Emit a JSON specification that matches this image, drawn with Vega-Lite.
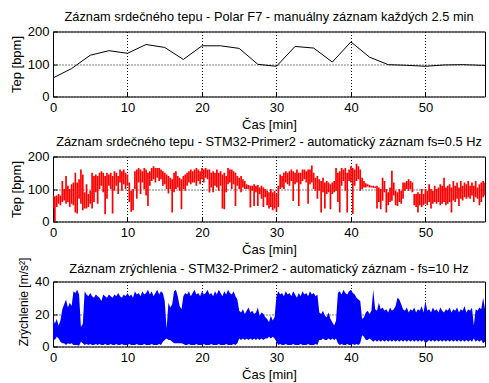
{
"$schema": "https://vega.github.io/schema/vega-lite/v6.json",
"padding": {"left": 9, "top": 9.5, "right": 0, "bottom": 0},
"spacing": 60,
"bounds": "flush",
"datasets": {
"polar": [{"t":0,"v":57},{"t":2.5,"v":86},{"t":5,"v":127},{"t":7.5,"v":141},{"t":10,"v":133},{"t":12.5,"v":160},{"t":15,"v":151},{"t":17.5,"v":114},{"t":20,"v":156},{"t":22.5,"v":156},{"t":25,"v":148},{"t":27.5,"v":99},{"t":30,"v":93},{"t":32.5,"v":154},{"t":35,"v":149},{"t":37.5,"v":106},{"t":40,"v":168},{"t":42.5,"v":121},{"t":45,"v":98},{"t":47.5,"v":96},{"t":50,"v":93},{"t":52.5,"v":97},{"t":55,"v":98},{"t":57.5,"v":96},{"t":60,"v":95}],
"hr": [
{"t":0,"lo":40,"hi":80},{"t":0.25,"lo":0,"hi":78},{"t":0.5,"lo":45,"hi":80},{"t":0.75,"lo":55,"hi":85},{"t":1,"lo":50,"hi":80},{"t":1.25,"lo":60,"hi":125},{"t":1.5,"lo":65,"hi":100},{"t":1.75,"lo":55,"hi":140},
{"t":2,"lo":60,"hi":110},{"t":2.25,"lo":45,"hi":100},{"t":2.5,"lo":55,"hi":115},{"t":2.75,"lo":50,"hi":120},{"t":3,"lo":28,"hi":150},{"t":3.25,"lo":25,"hi":120},{"t":3.5,"lo":70,"hi":130},{"t":3.75,"lo":55,"hi":160},
{"t":4,"lo":35,"hi":145},{"t":4.25,"lo":40,"hi":90},{"t":4.5,"lo":40,"hi":115},{"t":4.75,"lo":45,"hi":85},{"t":5,"lo":55,"hi":95},{"t":5.25,"lo":40,"hi":150},{"t":5.5,"lo":60,"hi":140},{"t":5.75,"lo":90,"hi":145},
{"t":6,"lo":55,"hi":140},{"t":6.25,"lo":100,"hi":150},{"t":6.5,"lo":110,"hi":155},{"t":6.75,"lo":90,"hi":150},{"t":7,"lo":22,"hi":140},{"t":7.25,"lo":70,"hi":150},{"t":7.5,"lo":110,"hi":145},{"t":7.75,"lo":100,"hi":150},
{"t":8,"lo":25,"hi":140},{"t":8.25,"lo":95,"hi":155},{"t":8.5,"lo":110,"hi":150},{"t":8.75,"lo":85,"hi":140},{"t":9,"lo":120,"hi":160},{"t":9.25,"lo":95,"hi":155},{"t":9.5,"lo":115,"hi":160},{"t":9.75,"lo":100,"hi":150},
{"t":10,"lo":110,"hi":145},{"t":10.25,"lo":60,"hi":120},{"t":10.5,"lo":30,"hi":95},{"t":10.75,"lo":35,"hi":100},{"t":11,"lo":100,"hi":155},{"t":11.25,"lo":70,"hi":160},{"t":11.5,"lo":120,"hi":165},{"t":11.75,"lo":85,"hi":160},
{"t":12,"lo":120,"hi":155},{"t":12.25,"lo":100,"hi":165},{"t":12.5,"lo":80,"hi":160},{"t":12.75,"lo":48,"hi":150},{"t":13,"lo":110,"hi":155},{"t":13.25,"lo":125,"hi":165},{"t":13.5,"lo":130,"hi":170},{"t":13.75,"lo":120,"hi":165},
{"t":14,"lo":135,"hi":165},{"t":14.25,"lo":125,"hi":165},{"t":14.5,"lo":130,"hi":160},{"t":14.75,"lo":110,"hi":155},{"t":15,"lo":115,"hi":150},{"t":15.25,"lo":100,"hi":145},{"t":15.5,"lo":86,"hi":140},{"t":15.75,"lo":100,"hi":135},
{"t":16,"lo":28,"hi":130},{"t":16.25,"lo":90,"hi":150},{"t":16.5,"lo":100,"hi":155},{"t":16.75,"lo":105,"hi":140},{"t":17,"lo":95,"hi":135},{"t":17.25,"lo":38,"hi":130},{"t":17.5,"lo":100,"hi":140},{"t":17.75,"lo":95,"hi":145},
{"t":18,"lo":110,"hi":150},{"t":18.25,"lo":120,"hi":155},{"t":18.5,"lo":115,"hi":160},{"t":18.75,"lo":120,"hi":155},{"t":19,"lo":120,"hi":160},{"t":19.25,"lo":110,"hi":165},{"t":19.5,"lo":125,"hi":160},{"t":19.75,"lo":115,"hi":155},
{"t":20,"lo":130,"hi":165},{"t":20.25,"lo":120,"hi":160},{"t":20.5,"lo":135,"hi":165},{"t":20.75,"lo":130,"hi":160},{"t":21,"lo":89,"hi":160},{"t":21.25,"lo":105,"hi":150},{"t":21.5,"lo":90,"hi":155},{"t":21.75,"lo":110,"hi":150},
{"t":22,"lo":105,"hi":160},{"t":22.25,"lo":95,"hi":150},{"t":22.5,"lo":110,"hi":155},{"t":22.75,"lo":40,"hi":145},{"t":23,"lo":38,"hi":150},{"t":23.25,"lo":90,"hi":140},{"t":23.5,"lo":115,"hi":165},{"t":23.75,"lo":120,"hi":160},
{"t":24,"lo":100,"hi":160},{"t":24.25,"lo":115,"hi":155},{"t":24.5,"lo":48,"hi":150},{"t":24.75,"lo":110,"hi":140},{"t":25,"lo":100,"hi":135},{"t":25.25,"lo":90,"hi":140},{"t":25.5,"lo":105,"hi":130},{"t":25.75,"lo":100,"hi":125},
{"t":26,"lo":100,"hi":115},{"t":26.25,"lo":100,"hi":112},{"t":26.5,"lo":43,"hi":110},{"t":26.75,"lo":95,"hi":110},{"t":27,"lo":48,"hi":115},{"t":27.25,"lo":90,"hi":110},{"t":27.5,"lo":48,"hi":112},{"t":27.75,"lo":85,"hi":105},
{"t":28,"lo":70,"hi":110},{"t":28.25,"lo":45,"hi":105},{"t":28.5,"lo":75,"hi":100},{"t":28.75,"lo":50,"hi":95},{"t":29,"lo":40,"hi":90},{"t":29.25,"lo":45,"hi":100},{"t":29.5,"lo":35,"hi":90},{"t":29.75,"lo":40,"hi":95},
{"t":30,"lo":30,"hi":85},{"t":30.25,"lo":45,"hi":110},{"t":30.5,"lo":100,"hi":145},{"t":30.75,"lo":105,"hi":140},{"t":31,"lo":100,"hi":150},{"t":31.25,"lo":120,"hi":155},{"t":31.5,"lo":115,"hi":150},{"t":31.75,"lo":110,"hi":155},
{"t":32,"lo":125,"hi":160},{"t":32.25,"lo":63,"hi":155},{"t":32.5,"lo":115,"hi":150},{"t":32.75,"lo":120,"hi":160},{"t":33,"lo":48,"hi":150},{"t":33.25,"lo":115,"hi":150},{"t":33.5,"lo":125,"hi":160},{"t":33.75,"lo":130,"hi":160},
{"t":34,"lo":120,"hi":155},{"t":34.25,"lo":55,"hi":160},{"t":34.5,"lo":115,"hi":160},{"t":34.75,"lo":120,"hi":172},{"t":35,"lo":100,"hi":150},{"t":35.25,"lo":95,"hi":135},{"t":35.5,"lo":70,"hi":140},{"t":35.75,"lo":95,"hi":130},
{"t":36,"lo":28,"hi":125},{"t":36.25,"lo":90,"hi":135},{"t":36.5,"lo":40,"hi":120},{"t":36.75,"lo":85,"hi":125},{"t":37,"lo":90,"hi":120},{"t":37.25,"lo":38,"hi":115},{"t":37.5,"lo":85,"hi":120},{"t":37.75,"lo":90,"hi":125},
{"t":38,"lo":95,"hi":165},{"t":38.25,"lo":60,"hi":150},{"t":38.5,"lo":28,"hi":155},{"t":38.75,"lo":110,"hi":165},{"t":39,"lo":125,"hi":160},{"t":39.25,"lo":95,"hi":165},{"t":39.5,"lo":28,"hi":150},{"t":39.75,"lo":125,"hi":160},
{"t":40,"lo":120,"hi":170},{"t":40.25,"lo":23,"hi":165},{"t":40.5,"lo":110,"hi":160},{"t":40.75,"lo":125,"hi":178},{"t":41,"lo":130,"hi":170},{"t":41.25,"lo":95,"hi":160},{"t":41.5,"lo":100,"hi":135},{"t":41.75,"lo":105,"hi":125},
{"t":42,"lo":105,"hi":118},{"t":42.25,"lo":108,"hi":115},{"t":42.5,"lo":105,"hi":112},{"t":42.75,"lo":105,"hi":110},{"t":43,"lo":104,"hi":110},{"t":43.25,"lo":103,"hi":108},{"t":43.5,"lo":40,"hi":110},{"t":43.75,"lo":60,"hi":105},
{"t":44,"lo":38,"hi":100},{"t":44.25,"lo":64,"hi":135},{"t":44.5,"lo":90,"hi":125},{"t":44.75,"lo":28,"hi":100},{"t":45,"lo":50,"hi":90},{"t":45.25,"lo":60,"hi":105},{"t":45.5,"lo":64,"hi":156},{"t":45.75,"lo":80,"hi":120},
{"t":46,"lo":50,"hi":95},{"t":46.25,"lo":48,"hi":90},{"t":46.5,"lo":60,"hi":100},{"t":46.75,"lo":55,"hi":95},{"t":47,"lo":70,"hi":120},{"t":47.25,"lo":95,"hi":120},{"t":47.5,"lo":100,"hi":125},{"t":47.75,"lo":95,"hi":130},
{"t":48,"lo":100,"hi":125},{"t":48.25,"lo":90,"hi":120},{"t":48.5,"lo":50,"hi":85},{"t":48.75,"lo":45,"hi":85},{"t":49,"lo":28,"hi":90},{"t":49.25,"lo":50,"hi":85},{"t":49.5,"lo":45,"hi":100},{"t":49.75,"lo":50,"hi":85},
{"t":50,"lo":55,"hi":100},{"t":50.25,"lo":50,"hi":95},{"t":50.5,"lo":60,"hi":115},{"t":50.75,"lo":40,"hi":100},{"t":51,"lo":55,"hi":95},{"t":51.25,"lo":60,"hi":110},{"t":51.5,"lo":55,"hi":100},{"t":51.75,"lo":60,"hi":105},
{"t":52,"lo":50,"hi":115},{"t":52.25,"lo":55,"hi":110},{"t":52.5,"lo":60,"hi":135},{"t":52.75,"lo":50,"hi":105},{"t":53,"lo":55,"hi":110},{"t":53.25,"lo":60,"hi":115},{"t":53.5,"lo":28,"hi":105},{"t":53.75,"lo":65,"hi":125},
{"t":54,"lo":60,"hi":110},{"t":54.25,"lo":70,"hi":120},{"t":54.5,"lo":48,"hi":105},{"t":54.75,"lo":70,"hi":125},{"t":55,"lo":65,"hi":110},{"t":55.25,"lo":75,"hi":120},{"t":55.5,"lo":70,"hi":115},{"t":55.75,"lo":75,"hi":125},
{"t":56,"lo":70,"hi":110},{"t":56.25,"lo":80,"hi":120},{"t":56.5,"lo":60,"hi":110},{"t":56.75,"lo":75,"hi":125},{"t":57,"lo":70,"hi":105},{"t":57.25,"lo":50,"hi":115},{"t":57.5,"lo":60,"hi":120},{"t":57.75,"lo":75,"hi":125},{"t":58,"lo":80,"hi":120}
],
"acc": [
{"t":0,"lo":5,"hi":18},{"t":0.25,"lo":4,"hi":14},{"t":0.5,"lo":6,"hi":17},{"t":0.75,"lo":5,"hi":13},{"t":1,"lo":3,"hi":16},{"t":1.25,"lo":2,"hi":23},{"t":1.5,"lo":2,"hi":26},{"t":1.75,"lo":1,"hi":29},
{"t":2,"lo":2,"hi":24},{"t":2.25,"lo":1.5,"hi":27},{"t":2.5,"lo":2,"hi":25},{"t":2.75,"lo":1,"hi":34},{"t":3,"lo":1,"hi":33},{"t":3.25,"lo":1,"hi":35},{"t":3.5,"lo":0.5,"hi":32},{"t":3.75,"lo":3,"hi":12},
{"t":4,"lo":2,"hi":14},{"t":4.25,"lo":1,"hi":34},{"t":4.5,"lo":1.5,"hi":32},{"t":4.75,"lo":1,"hi":31},{"t":5,"lo":1.5,"hi":33},{"t":5.25,"lo":1,"hi":31},{"t":5.5,"lo":1,"hi":30},{"t":5.75,"lo":1.5,"hi":32},
{"t":6,"lo":1,"hi":31},{"t":6.25,"lo":1.5,"hi":30},{"t":6.5,"lo":1,"hi":28},{"t":6.75,"lo":1,"hi":32},{"t":7,"lo":1.5,"hi":31},{"t":7.25,"lo":1,"hi":30},{"t":7.5,"lo":1,"hi":32},{"t":7.75,"lo":1.5,"hi":31},
{"t":8,"lo":1,"hi":30},{"t":8.25,"lo":1,"hi":32},{"t":8.5,"lo":1.5,"hi":31},{"t":8.75,"lo":1,"hi":33},{"t":9,"lo":1,"hi":31},{"t":9.25,"lo":1.5,"hi":30},{"t":9.5,"lo":1,"hi":32},{"t":9.75,"lo":1,"hi":31},
{"t":10,"lo":1,"hi":33},{"t":10.25,"lo":1.5,"hi":31},{"t":10.5,"lo":1,"hi":32},{"t":10.75,"lo":1,"hi":30},{"t":11,"lo":1,"hi":34},{"t":11.25,"lo":1.5,"hi":32},{"t":11.5,"lo":1,"hi":33},{"t":11.75,"lo":1,"hi":31},
{"t":12,"lo":1,"hi":34},{"t":12.25,"lo":1.5,"hi":32},{"t":12.5,"lo":1,"hi":33},{"t":12.75,"lo":1,"hi":35},{"t":13,"lo":1,"hi":32},{"t":13.25,"lo":1.5,"hi":34},{"t":13.5,"lo":1,"hi":31},{"t":13.75,"lo":1,"hi":33},
{"t":14,"lo":1,"hi":35},{"t":14.25,"lo":1.5,"hi":32},{"t":14.5,"lo":1,"hi":34},{"t":14.75,"lo":3,"hi":33},{"t":15,"lo":4,"hi":28},{"t":15.25,"lo":5,"hi":11},{"t":15.5,"lo":4,"hi":27},{"t":15.75,"lo":4,"hi":24},
{"t":16,"lo":3,"hi":26},{"t":16.25,"lo":2,"hi":34},{"t":16.5,"lo":2,"hi":35},{"t":16.75,"lo":2,"hi":31},{"t":17,"lo":2,"hi":25},{"t":17.25,"lo":2,"hi":23},{"t":17.5,"lo":1.5,"hi":31},{"t":17.75,"lo":1,"hi":33},
{"t":18,"lo":1,"hi":32},{"t":18.25,"lo":1.5,"hi":34},{"t":18.5,"lo":1,"hi":31},{"t":18.75,"lo":1,"hi":33},{"t":19,"lo":1,"hi":35},{"t":19.25,"lo":1.5,"hi":32},{"t":19.5,"lo":1,"hi":33},{"t":19.75,"lo":1,"hi":31},
{"t":20,"lo":1,"hi":34},{"t":20.25,"lo":1.5,"hi":32},{"t":20.5,"lo":1,"hi":33},{"t":20.75,"lo":1,"hi":35},{"t":21,"lo":1,"hi":32},{"t":21.25,"lo":1.5,"hi":33},{"t":21.5,"lo":1,"hi":31},{"t":21.75,"lo":1,"hi":34},
{"t":22,"lo":1,"hi":32},{"t":22.25,"lo":1.5,"hi":35},{"t":22.5,"lo":1,"hi":33},{"t":22.75,"lo":1,"hi":31},{"t":23,"lo":1,"hi":34},{"t":23.25,"lo":1.5,"hi":32},{"t":23.5,"lo":1,"hi":35},{"t":23.75,"lo":1,"hi":33},
{"t":24,"lo":1,"hi":32},{"t":24.25,"lo":1.5,"hi":34},{"t":24.5,"lo":1,"hi":31},{"t":24.75,"lo":2,"hi":29},{"t":25,"lo":5,"hi":22},{"t":25.25,"lo":4,"hi":21},{"t":25.5,"lo":5,"hi":23},{"t":25.75,"lo":4,"hi":20},
{"t":26,"lo":5,"hi":22},{"t":26.25,"lo":4,"hi":24},{"t":26.5,"lo":5,"hi":21},{"t":26.75,"lo":4,"hi":22},{"t":27,"lo":5,"hi":20},{"t":27.25,"lo":4,"hi":21},{"t":27.5,"lo":5,"hi":24},{"t":27.75,"lo":4,"hi":19},
{"t":28,"lo":5,"hi":21},{"t":28.25,"lo":4,"hi":20},{"t":28.5,"lo":5,"hi":18},{"t":28.75,"lo":5,"hi":17},{"t":29,"lo":6,"hi":15},{"t":29.25,"lo":5,"hi":19},{"t":29.5,"lo":6,"hi":16},{"t":29.75,"lo":5,"hi":18},
{"t":30,"lo":3,"hi":31},{"t":30.25,"lo":1,"hi":34},{"t":30.5,"lo":1.5,"hi":32},{"t":30.75,"lo":1,"hi":33},{"t":31,"lo":1,"hi":31},{"t":31.25,"lo":1.5,"hi":34},{"t":31.5,"lo":1,"hi":32},{"t":31.75,"lo":1,"hi":33},
{"t":32,"lo":1,"hi":31},{"t":32.25,"lo":1.5,"hi":34},{"t":32.5,"lo":1,"hi":32},{"t":32.75,"lo":1,"hi":30},{"t":33,"lo":1,"hi":33},{"t":33.25,"lo":1.5,"hi":31},{"t":33.5,"lo":1,"hi":34},{"t":33.75,"lo":1,"hi":32},
{"t":34,"lo":1,"hi":33},{"t":34.25,"lo":1.5,"hi":31},{"t":34.5,"lo":1,"hi":34},{"t":34.75,"lo":1,"hi":32},{"t":35,"lo":1,"hi":33},{"t":35.25,"lo":1.5,"hi":31},{"t":35.5,"lo":1,"hi":32},{"t":35.75,"lo":4,"hi":21},
{"t":36,"lo":4,"hi":20},{"t":36.25,"lo":5,"hi":22},{"t":36.5,"lo":4,"hi":19},{"t":36.75,"lo":4,"hi":18},{"t":37,"lo":5,"hi":21},{"t":37.25,"lo":4,"hi":17},{"t":37.5,"lo":5,"hi":15},{"t":37.75,"lo":4,"hi":13},
{"t":38,"lo":5,"hi":16},{"t":38.25,"lo":2,"hi":33},{"t":38.5,"lo":1,"hi":34},{"t":38.75,"lo":1.5,"hi":32},{"t":39,"lo":1,"hi":35},{"t":39.25,"lo":1,"hi":33},{"t":39.5,"lo":1.5,"hi":32},{"t":39.75,"lo":1,"hi":34},
{"t":40,"lo":1,"hi":35},{"t":40.25,"lo":1.5,"hi":33},{"t":40.5,"lo":1,"hi":32},{"t":40.75,"lo":1.5,"hi":30},{"t":41,"lo":1,"hi":29},{"t":41.25,"lo":2,"hi":28},{"t":41.5,"lo":7,"hi":17},{"t":41.75,"lo":6,"hi":18},
{"t":42,"lo":4,"hi":21},{"t":42.25,"lo":4,"hi":22},{"t":42.5,"lo":5,"hi":20},{"t":42.75,"lo":4,"hi":22},{"t":43,"lo":3,"hi":35},{"t":43.25,"lo":4,"hi":23},{"t":43.5,"lo":3,"hi":22},{"t":43.75,"lo":4,"hi":27},
{"t":44,"lo":3,"hi":23},{"t":44.25,"lo":4,"hi":24},{"t":44.5,"lo":3,"hi":22},{"t":44.75,"lo":4,"hi":23},{"t":45,"lo":3,"hi":21},{"t":45.25,"lo":4,"hi":24},{"t":45.5,"lo":3,"hi":22},{"t":45.75,"lo":4,"hi":23},
{"t":46,"lo":3,"hi":25},{"t":46.25,"lo":4,"hi":30},{"t":46.5,"lo":3,"hi":29},{"t":46.75,"lo":4,"hi":26},{"t":47,"lo":3,"hi":23},{"t":47.25,"lo":4,"hi":22},{"t":47.5,"lo":3,"hi":24},{"t":47.75,"lo":4,"hi":21},
{"t":48,"lo":3,"hi":23},{"t":48.25,"lo":4,"hi":22},{"t":48.5,"lo":3,"hi":24},{"t":48.75,"lo":4,"hi":21},{"t":49,"lo":3,"hi":23},{"t":49.25,"lo":4,"hi":22},{"t":49.5,"lo":3,"hi":25},{"t":49.75,"lo":4,"hi":21},
{"t":50,"lo":2,"hi":28},{"t":50.25,"lo":3,"hi":22},{"t":50.5,"lo":4,"hi":23},{"t":50.75,"lo":3,"hi":21},{"t":51,"lo":4,"hi":24},{"t":51.25,"lo":3,"hi":22},{"t":51.5,"lo":4,"hi":23},{"t":51.75,"lo":3,"hi":21},
{"t":52,"lo":4,"hi":24},{"t":52.25,"lo":3,"hi":22},{"t":52.5,"lo":4,"hi":21},{"t":52.75,"lo":3,"hi":23},{"t":53,"lo":4,"hi":22},{"t":53.25,"lo":3,"hi":24},{"t":53.5,"lo":4,"hi":21},{"t":53.75,"lo":3,"hi":23},
{"t":54,"lo":4,"hi":22},{"t":54.25,"lo":3,"hi":24},{"t":54.5,"lo":4,"hi":21},{"t":54.75,"lo":3,"hi":23},{"t":55,"lo":4,"hi":22},{"t":55.25,"lo":3,"hi":25},{"t":55.5,"lo":4,"hi":21},{"t":55.75,"lo":3,"hi":23},
{"t":56,"lo":4,"hi":22},{"t":56.25,"lo":3,"hi":24},{"t":56.5,"lo":5,"hi":13},{"t":56.75,"lo":3,"hi":23},{"t":57,"lo":4,"hi":22},{"t":57.25,"lo":3,"hi":24},{"t":57.5,"lo":4,"hi":23},{"t":57.75,"lo":2,"hi":30},{"t":58,"lo":3,"hi":23}
]
},
"vconcat": [
{
"width": 432, "height": 65,
"title": {"text": "Záznam srdečného tepu - Polar F7 - manuálny záznam každých 2.5 min"},
"data": {"name": "polar"},
"mark": {"type": "line", "color": "black", "strokeWidth": 1, "clip": true},
"encoding": {
"x": {"field": "t", "type": "quantitative", "scale": {"domain": [0, 58], "nice": false}, "axis": {"title": "Čas [min]", "values": [0,10,20,30,40,50]}},
"y": {"field": "v", "type": "quantitative", "scale": {"domain": [0, 200], "nice": false}, "axis": {"title": "Tep [bpm]", "values": [0,100,200]}}
}
},
{
"width": 432, "height": 65,
"title": {"text": "Záznam srdečného tepu - STM32-Primer2 - automatický záznam fs=0.5 Hz"},
"data": {"name": "hr"},
"mark": {"type": "rule", "color": "#ff0000", "strokeWidth": 1.7, "clip": true},
"encoding": {
"x": {"field": "t", "type": "quantitative", "scale": {"domain": [0, 58], "nice": false}, "axis": {"title": "Čas [min]", "values": [0,10,20,30,40,50]}},
"y": {"field": "lo", "type": "quantitative", "scale": {"domain": [0, 200], "nice": false}, "axis": {"title": "Tep [bpm]", "values": [0,100,200]}},
"y2": {"field": "hi"}
}
},
{
"width": 432, "height": 65,
"title": {"text": "Záznam zrýchlenia - STM32-Primer2 - automatický záznam - fs=10 Hz", "dy": 21},
"data": {"name": "acc"},
"mark": {"type": "area", "color": "#0000ff", "opacity": 1, "clip": true},
"encoding": {
"x": {"field": "t", "type": "quantitative", "scale": {"domain": [0, 58], "nice": false}, "axis": {"title": "Čas [min]", "values": [0,10,20,30,40,50]}},
"y": {"field": "lo", "type": "quantitative", "scale": {"domain": [0, 40], "nice": false}, "axis": {"title": "Zrýchlenie [m/s²]", "values": [0,20,40], "titleY": 20, "titleFontSize": 12}},
"y2": {"field": "hi"}
}
}
],
"config": {
"font": "Liberation Sans",
"view": {"stroke": "black", "strokeWidth": 1},
"axis": {"labelFont": "Liberation Sans", "labelFontSize": 13, "labelColor": "black", "titleFont": "Liberation Sans", "titleFontSize": 13, "titleFontWeight": "normal", "titleColor": "black", "domain": false, "ticks": true, "tickColor": "black", "tickSize": -4, "labelPadding": 8, "labelFlush": false, "grid": true, "gridColor": "black", "gridDash": [1, 2], "gridOpacity": 1, "gridWidth": 1, "titlePadding": 4},
"axisX": {"titlePadding": 4, "labelPadding": 9},
"title": {"font": "Liberation Sans", "fontSize": 12.8, "fontWeight": "normal", "color": "black", "anchor": "middle", "frame": "group", "baseline": "alphabetic", "offset": 2}
}
}
